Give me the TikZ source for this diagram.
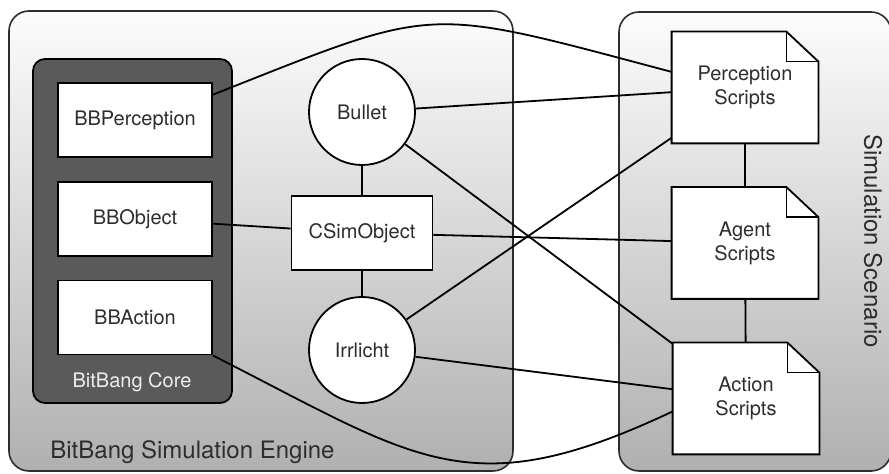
\documentclass[tikz,border=0pt]{standalone}
\usepackage{fontspec}
\setmainfont{TeX Gyre Heros}
\usetikzlibrary{positioning}
\pgfdeclarelayer{back}
\pgfdeclarelayer{docs}
\pgfsetlayers{back,docs,main}
\definecolor{inkgray}{RGB}{45,45,45}
\definecolor{coregray}{RGB}{90,90,90}
\definecolor{paneltop}{RGB}{252,252,252}
\definecolor{panelbottom}{RGB}{176,176,176}
\definecolor{corelabel}{RGB}{238,238,238}

% dog-eared page drawn behind a script node
\newcommand{\docshape}[1]{%
  \begin{pgfonlayer}{docs}
    \draw[docline, fill=white] (#1.north west) -- ([xshift=-16pt]#1.north east)
      -- ([yshift=-15pt]#1.north east) -- (#1.south east) -- (#1.south west) -- cycle;
    \draw[docline] ([xshift=-16pt]#1.north east) |- ([yshift=-15pt]#1.north east);
  \end{pgfonlayer}}

\begin{document}
\begin{tikzpicture}[x=0.5pt, y=-0.5pt,
    every node/.style={font=\fontsize{10}{12}\selectfont, text=inkgray},
    panel/.style={draw=inkgray, line width=0.8pt, rounded corners=10pt,
      top color=paneltop, bottom color=panelbottom},
    corebox/.style={draw=black, line width=0.9pt, rounded corners=6pt, fill=coregray,
      minimum width=99.5pt, minimum height=172pt},
    classbox/.style={draw=black, line width=0.9pt, fill=white,
      minimum width=77pt, minimum height=37pt},
    enginecircle/.style={circle, draw=black, line width=0.9pt, fill=white, minimum size=53pt},
    script/.style={minimum width=73pt, minimum height=55.5pt, align=center, inner sep=0pt},
    docline/.style={draw=black, line width=0.9pt},
    wire/.style={draw=black, line width=0.9pt},
    panellabel/.style={font=\fontsize{12}{14}\selectfont, inner sep=0pt}]

  \useasboundingbox (0,0) rectangle (889,474);

  \begin{pgfonlayer}{back}
    \begin{scope}
      \clip (0,0) rectangle (889,474);
      \node[panel, minimum width=252pt, minimum height=230pt] (engine) at (261,241) {};
      \node[panel, minimum width=136pt, minimum height=229.5pt] (scenario) at (755,241.5) {};
    \end{scope}
  \end{pgfonlayer}

  \node[panellabel, anchor=west] (enginename) at (50,452) {BitBang Simulation Engine};
  \node[panellabel, rotate=-90] (scenarioname) at (873,241) {Simulation Scenario};

  % BitBang core
  \node[corebox] (core) at (132.5,231) {};
  \node[classbox] (bbperc) at (135,120) {BBPerception};
  \node[classbox, below=11.5pt of bbperc] (bbobj) {BBObject};
  \node[classbox, below=11.5pt of bbobj] (bbact) {BBAction};
  \node[text=corelabel] (corename) at (132,382) {BitBang Core};

  % engine parts
  \node[enginecircle] (bullet) at (362,112) {Bullet};
  \node[classbox, minimum width=70.5pt] (csim) at (362,233) {CSimObject};
  \node[enginecircle] (irr) at (362,350) {Irrlicht};

  % scripts
  \node[script] (percs) at (745,87.5) {Perception\\Scripts};
  \docshape{percs}
  \node[script] (agents) at (745,243) {Agent\\Scripts};
  \docshape{agents}
  \node[script] (acts) at (746,398.5) {Action\\Scripts};
  \docshape{acts}

  \draw[wire] (bbperc.18) .. controls (440,5) and (420,5) .. (percs.168);
  \draw[wire] (bullet) -- (percs);
  \draw[wire] (bullet) -- (acts);
  \draw[wire] (bullet) -- (csim);
  \draw[wire] (bbobj) -- (csim);
  \draw[wire] (csim) -- (agents);
  \draw[wire] (csim) -- (irr);
  \draw[wire] (irr) -- (percs);
  \draw[wire] (irr) -- (acts);
  \draw[wire] (bbact.south east) .. controls (417,459) and (468,508) .. (acts.190);
  \draw[wire] (percs) -- (agents);
  \draw[wire] (agents) -- (acts);
\end{tikzpicture}
\end{document}
